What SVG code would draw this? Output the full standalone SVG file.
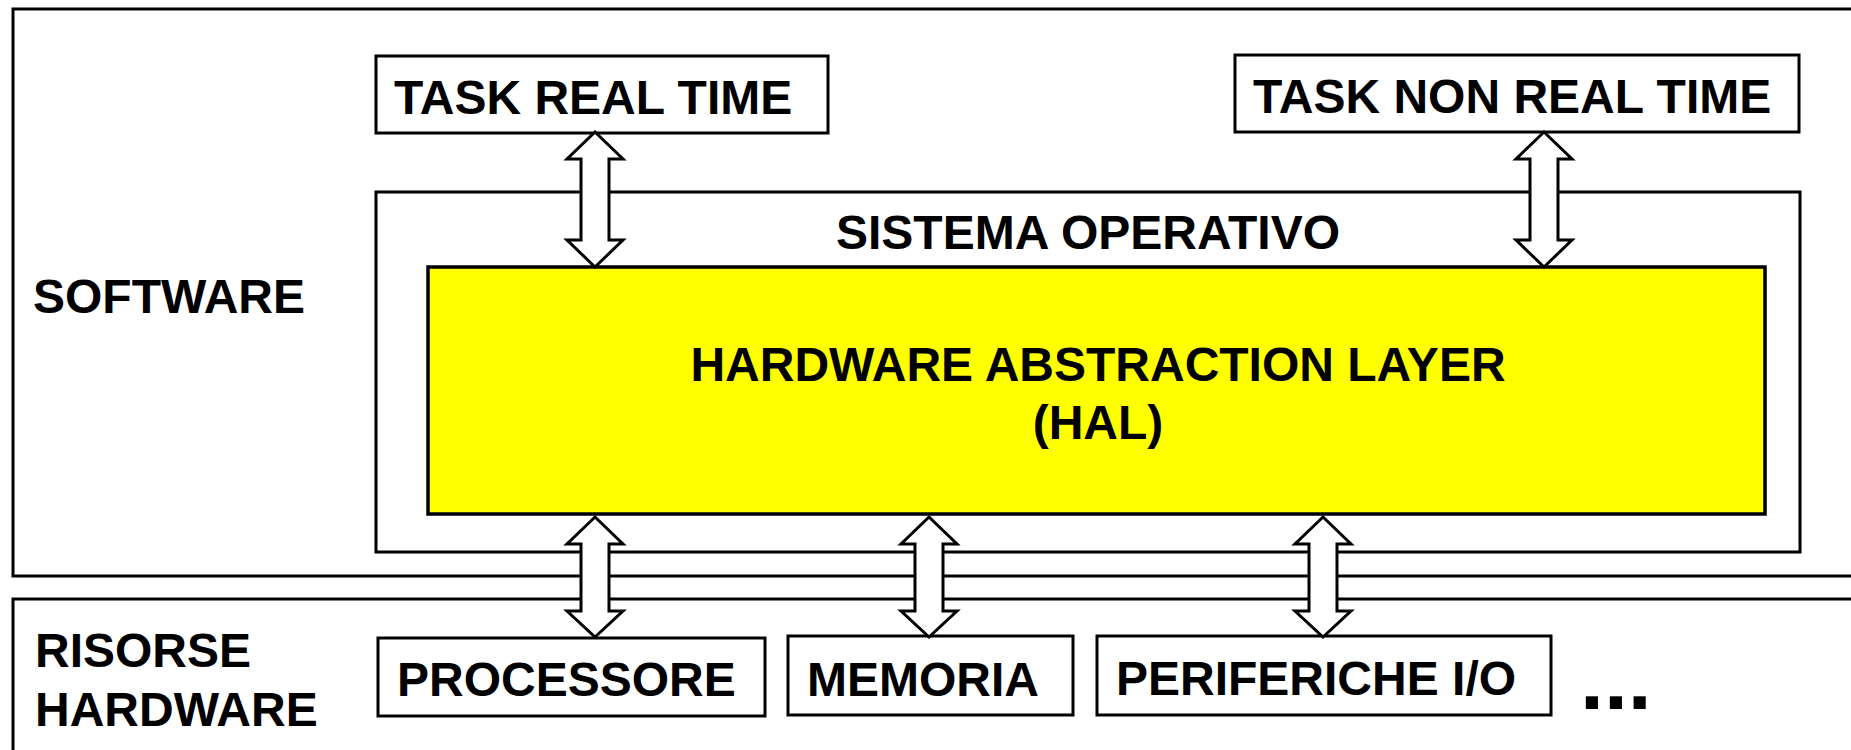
<svg xmlns="http://www.w3.org/2000/svg" width="1851" height="750" viewBox="0 0 1851 750">
  <style>
    .box { fill: #ffffff; stroke: #000000; stroke-width: 3; }
    .hal { fill: #ffff00; stroke: #000000; stroke-width: 3.5; }
    .t { font-family: "Liberation Sans", Arial, sans-serif; font-weight: bold; font-size: 48px; fill: #000000; }
    .mid { text-anchor: middle; }
    .arrow { fill: #ffffff; stroke: #000000; stroke-width: 3; stroke-linejoin: miter; }
  </style>
  <rect width="1851" height="750" fill="#ffffff"/>

  <g id="software-area">
    <rect class="box" x="13" y="9" width="1900" height="567"/>
    <text class="t" x="33" y="313">SOFTWARE</text>
  </g>

  <g id="hardware-area">
    <rect class="box" x="13" y="599" width="1900" height="200"/>
    <text class="t" x="35" y="667">RISORSE</text>
    <text class="t" x="35" y="726">HARDWARE</text>
  </g>

  <g id="sistema-operativo">
    <rect class="box" x="376" y="192" width="1424" height="360"/>
    <text class="t mid" x="1088" y="249">SISTEMA OPERATIVO</text>
  </g>

  <g id="hal">
    <rect class="hal" x="428" y="267" width="1337" height="247"/>
    <text class="t mid" x="1098" y="381">HARDWARE ABSTRACTION LAYER</text>
    <text class="t mid" x="1098" y="439">(HAL)</text>
  </g>

  <g id="task-real-time">
    <rect class="box" x="376" y="56" width="452" height="77"/>
    <text class="t" x="394" y="114">TASK REAL TIME</text>
  </g>

  <g id="task-non-real-time">
    <rect class="box" x="1235" y="55" width="564" height="77"/>
    <text class="t" x="1253" y="113">TASK NON REAL TIME</text>
  </g>

  <g id="processore">
    <rect class="box" x="378" y="638" width="387" height="78"/>
    <text class="t" x="397" y="696">PROCESSORE</text>
  </g>

  <g id="memoria">
    <rect class="box" x="788" y="636" width="285" height="79"/>
    <text class="t" x="807" y="696">MEMORIA</text>
  </g>

  <g id="periferiche">
    <rect class="box" x="1097" y="636" width="454" height="79"/>
    <text class="t" x="1116" y="695">PERIFERICHE I/O</text>
  </g>

  <g id="ellipsis">
    <text class="t" x="1580" y="709" style="font-size:86px">...</text>
  </g>

  <g id="connectors">
    <path class="arrow" d="M595,132 L623,159 L609,159 L609,240 L623,240 L595,267 L567,240 L581,240 L581,159 L567,159 Z"/>
    <path class="arrow" d="M1544,132 L1572,159 L1558,159 L1558,240 L1572,240 L1544,267 L1516,240 L1530,240 L1530,159 L1516,159 Z"/>
    <path class="arrow" d="M595,517 L623,544 L609,544 L609,611 L623,611 L595,637 L567,611 L581,611 L581,544 L567,544 Z"/>
    <path class="arrow" d="M929,517 L957,544 L943,544 L943,611 L957,611 L929,637 L901,611 L915,611 L915,544 L901,544 Z"/>
    <path class="arrow" d="M1323,517 L1351,544 L1337,544 L1337,611 L1351,611 L1323,637 L1295,611 L1309,611 L1309,544 L1295,544 Z"/>
  </g>
</svg>
